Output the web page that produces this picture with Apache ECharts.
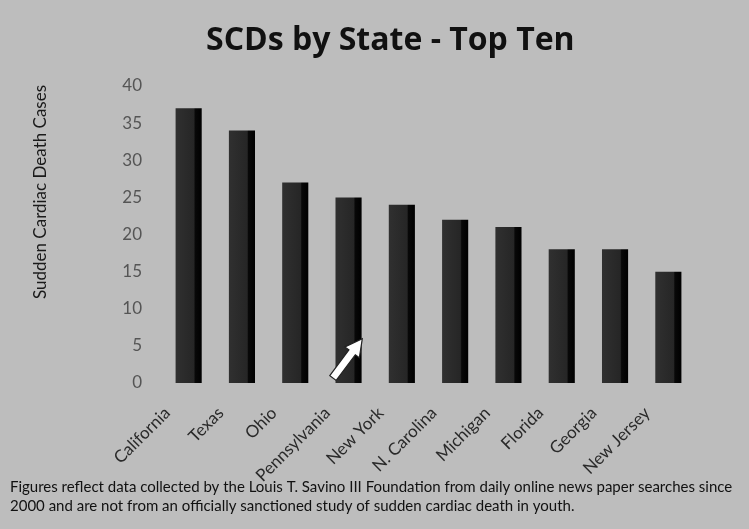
<!DOCTYPE html>
<html>
<head>
<meta charset="utf-8">
<script src="https://cdn.jsdelivr.net/npm/echarts@6/dist/echarts.min.js"></script>
<style>
  html, body { margin: 0; padding: 0; background: #bdbdbd; }
  #chart { width: 749px; height: 529px; }
</style>
</head>
<body>
<div id="chart"></div>
<script>
// Sudden cardiac death cases, ten states with the most reports
const states = ['California', 'Texas', 'Ohio', 'Pennsylvania', 'New York',
                'N. Carolina', 'Michigan', 'Florida', 'Georgia', 'New Jersey'];
const cases = [37, 34, 27, 25, 24, 22, 21, 18, 18, 15];
const yTicks = { min: 0, max: 40, interval: 5 };

const yTitle = 'Sudden Cardiac Death Cases';
const footnote = 'Figures reflect data collected by the Louis T. Savino III Foundation from daily online news paper searches since\n' +
                 '2000 and are not from an officially sanctioned study of sudden cardiac death in youth.';

const chart = echarts.init(document.getElementById('chart'), null, { renderer: 'canvas' });

chart.setOption({
  backgroundColor: '#bdbdbd',
  animation: false,
  title: {
    text: 'SCDs by State - Top Ten',
    left: 201,
    top: 20,
    textStyle: { fontFamily: 'Open Sans', fontWeight: 'bold', fontSize: 32, color: '#111' }
  },
  grid: { left: 162, right: 54, top: 86, bottom: 146 },
  xAxis: {
    type: 'category',
    data: states,
    axisLine: { show: false },
    axisTick: { show: false },
    axisLabel: {
      rotate: 45,
      interval: 0,
      margin: 6,
      padding: [0, 30, 0, 0],
      fontFamily: 'Lato',
      fontSize: 17,
      color: '#2a2a2a'
    }
  },
  yAxis: {
    type: 'value',
    min: yTicks.min,
    max: yTicks.max,
    interval: yTicks.interval,
    axisLine: { show: false },
    axisTick: { show: false },
    splitLine: { show: false },
    axisLabel: { fontFamily: 'Lato', fontSize: 17, color: '#555', margin: 20 }
  },
  series: [{
    type: 'bar',
    data: cases,
    barWidth: '49%',
    itemStyle: {
      color: new echarts.graphic.LinearGradient(0, 0, 1, 0, [
        { offset: 0, color: '#303030' },
        { offset: 0.7, color: '#262626' },
        { offset: 0.75, color: '#080808' },
        { offset: 1, color: '#000' }
      ])
    }
  }],
  graphic: [
    {
      // vertical axis title, rotated to read bottom-up
      type: 'text',
      x: 41,
      y: 192,
      rotation: Math.PI / 2,
      style: {
        text: yTitle,
        fontFamily: 'Lato',
        fontSize: 17,
        fill: '#1a1a1a',
        align: 'center',
        verticalAlign: 'middle'
      }
    },
    {
      // white pointer arrow near the Pennsylvania bar
      type: 'polygon',
      x: 333,
      y: 378,
      rotation: 0.93,
      shape: {
        points: [[0, -4], [32, -4], [32, -9], [49, 0], [32, 9], [32, 4], [0, 4]]
      },
      style: { fill: '#fff', stroke: '#222', lineWidth: 1.2 },
      z: 10
    },
    {
      type: 'text',
      left: 10,
      top: 478,
      style: {
        text: footnote,
        fontFamily: 'Lato',
        fontSize: 15,
        lineHeight: 19,
        fill: '#111'
      }
    }
  ]
});
</script>
</body>
</html>
